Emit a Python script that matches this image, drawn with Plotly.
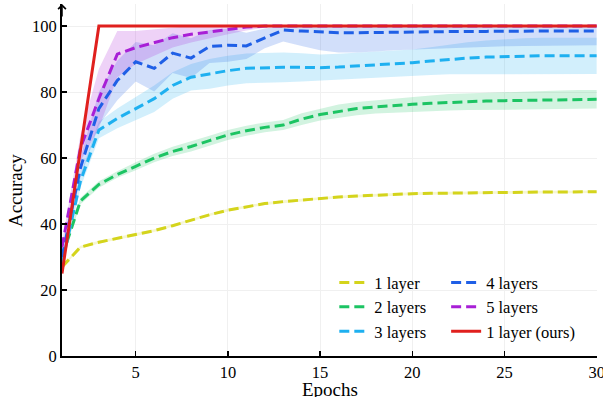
import plotly.graph_objects as go

epochs = list(range(1, 31))

names = ["1 layer", "2 layers", "3 layers", "4 layers", "5 layers", "1 layer (ours)"]
colors = ["#d4d41c", "#1cc463", "#1eb0f0", "#1f5fe6", "#a81fd6", "#e0201e"]

acc_1 = [27, 33, 34.5, 35.7, 36.8, 38, 39.5, 41.2, 42.8, 44.2, 45.3, 46.2, 46.8, 47.3, 47.8,
         48.2, 48.5, 48.8, 49.0, 49.2, 49.3, 49.4, 49.5, 49.5, 49.6, 49.6, 49.7, 49.7, 49.8, 49.8]
sd_1 = [0.4] * 30

acc_2 = [30, 47, 52, 55, 57.5, 60, 62, 63.5, 65.3, 67, 68.3, 69.3, 70, 71.8, 73.2,
         74.2, 75, 75.5, 76, 76.3, 76.6, 76.9, 77.1, 77.3, 77.4, 77.5, 77.6, 77.7, 77.8, 77.8]
sd_2 = [0.5, 1, 1, 1, 1.2, 1.3, 1.4, 1.5, 1.5, 1.5, 1.5, 1.5, 1.5, 1.8, 1.8,
        2, 2, 2, 2.2, 2.3, 2.4, 2.5, 2.5, 2.6, 2.7, 2.8, 2.8, 2.8, 2.8, 2.8]

acc_3 = [28, 53, 68.5, 72, 75, 78, 82, 84.5, 85.5, 86.5, 87.2, 87.4, 87.5, 87.5, 87.4,
         87.6, 87.9, 88.2, 88.5, 88.9, 89.4, 89.9, 90.3, 90.6, 90.8, 90.9, 91, 91, 91, 91]
sd_3 = [1, 2, 2.5, 3, 3.5, 4, 4, 4, 4.5, 4.5, 4.5, 4.5, 4.5, 4.3, 4,
        4, 4, 4, 4, 4, 4.2, 4.5, 4.8, 5, 5.2, 5.4, 5.5, 5.5, 5.5, 5.5]

acc_4 = [30, 57, 75, 83.5, 89.2, 87.2, 91.8, 90.3, 93.8, 94.2, 94, 96.3, 98.8, 98.5, 98.2,
         98, 98, 98.1, 98.2, 98.3, 98.3, 98.4, 98.4, 98.4, 98.5, 98.5, 98.5, 98.5, 98.5, 98.5]
sd_4 = [1, 3, 5, 6, 6, 7, 6, 6, 5, 5, 4, 3, 3.5, 4.5, 5.5,
        6, 6, 5.8, 5.5, 5.3, 5, 5, 4.8, 4.7, 4.6, 4.5, 4.4, 4.3, 4.3, 4.3]

acc_5 = [33, 63, 78, 91.5, 93.5, 95, 96.5, 97.5, 98.3, 99, 99.7, 100, 100, 100, 100,
         100, 100, 100, 100, 100, 100, 100, 100, 100, 100, 100, 100, 100, 100, 100]
sd_5 = [1, 4, 9, 7, 5, 4, 3, 2.5, 2, 1.5, 1, 0.5, 0, 0, 0,
        0, 0, 0, 0, 0, 0, 0, 0, 0, 0, 0, 0, 0, 0, 0]

acc_ours = [25, 62.5, 100, 100, 100, 100, 100, 100, 100, 100, 100, 100, 100, 100, 100,
            100, 100, 100, 100, 100, 100, 100, 100, 100, 100, 100, 100, 100, 100, 100]

means = [acc_1, acc_2, acc_3, acc_4, acc_5, acc_ours]
sds = [sd_1, sd_2, sd_3, sd_4, sd_5, None]

x_ticks = [5, 10, 15, 20, 25, 30]
y_ticks = [0, 20, 40, 60, 80, 100]

FONT = "Liberation Serif, Times New Roman, serif"


def rgba(hex_color, a):
    h = hex_color.lstrip("#")
    r, g, b = int(h[0:2], 16), int(h[2:4], 16), int(h[4:6], 16)
    return f"rgba({r},{g},{b},{a})"


fig = go.Figure()

# bands
for m, s, c in zip(means, sds, colors):
    if s is None:
        continue
    upper = [min(a + b, 100) for a, b in zip(m, s)]
    lower = [a - b for a, b in zip(m, s)]
    fig.add_trace(go.Scatter(
        x=epochs + epochs[::-1], y=upper + lower[::-1],
        fill="toself", fillcolor=rgba(c, 0.2), line=dict(width=0),
        mode="lines", showlegend=False, hoverinfo="skip"))

# lines
for i, (m, c, n) in enumerate(zip(means, colors, names)):
    ours = i == 5
    fig.add_trace(go.Scatter(
        x=epochs, y=m, mode="lines", name=n,
        line=dict(color=c, width=3, dash="solid" if ours else "10px,5px"),
        legend="legend" if i < 3 else "legend2"))

legend_common = dict(font=dict(family=FONT, size=16.5, color="black"),
                     bgcolor="rgba(0,0,0,0)", yanchor="top", xanchor="left",
                     tracegroupgap=0)
fig.update_layout(
    width=603, height=397,
    margin=dict(l=62, r=6, t=4, b=41),
    paper_bgcolor="white", plot_bgcolor="white",
    font=dict(family=FONT, size=16.5, color="black"),
    legend=dict(x=0.509, y=0.258, **legend_common),
    legend2=dict(x=0.718, y=0.258, **legend_common),
    xaxis=dict(range=[1, 30.02], tickvals=x_ticks, ticks="inside", ticklen=5,
               tickwidth=1.5, tickcolor="black", showline=True, linecolor="black",
               linewidth=2, showgrid=True, gridcolor="#f0f0f0", gridwidth=1,
               zeroline=False, tickfont=dict(family=FONT, size=16.5),
               ticklabeloverflow="allow", automargin=False),
    yaxis=dict(range=[0, 106.7], tickvals=y_ticks, ticks="inside", ticklen=5,
               tickwidth=1.5, tickcolor="black", showline=True, linecolor="black",
               linewidth=2, showgrid=True, gridcolor="#f0f0f0", gridwidth=1,
               zeroline=False, tickfont=dict(family=FONT, size=16.5),
               ticklabeloverflow="allow", automargin=False),
    annotations=[
        dict(x=1, y=1, xref="x", yref="paper", ax=0, ay=14,
             showarrow=True, arrowhead=4, arrowsize=1, arrowwidth=1.5,
             arrowcolor="black", text=""),
        dict(x=0.5, y=0, xref="paper", yref="paper", yshift=-33, yanchor="middle",
             xanchor="center", showarrow=False, text="Epochs",
             font=dict(family=FONT, size=19, color="black")),
        dict(x=0, y=50, xref="paper", yref="y", xshift=-47, xanchor="center",
             yanchor="middle", textangle=-90, showarrow=False, text="Accuracy",
             font=dict(family=FONT, size=19, color="black")),
    ],
)

fig.write_html(
    "out.html",
    config={"responsive": False, "displayModeBar": False, "staticPlot": True},
    post_script="document.body.style.margin='0';document.body.style.padding='0';",
)
